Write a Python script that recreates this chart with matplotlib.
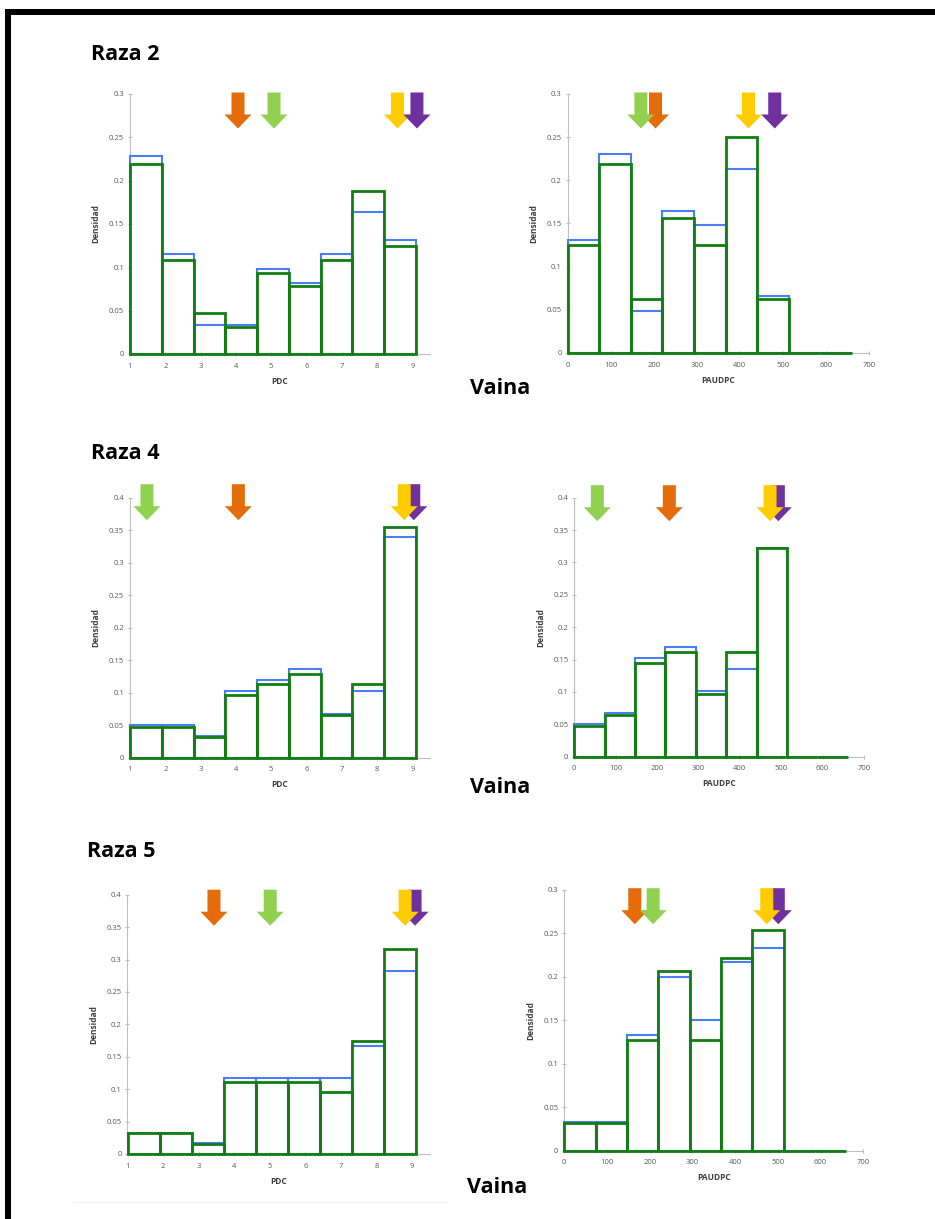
import matplotlib
matplotlib.use("Agg")
import matplotlib.pyplot as plt
import matplotlib.transforms as mtransforms
from matplotlib.patches import Polygon, Rectangle
from matplotlib.lines import Line2D

W, H, DPI = 935, 1219, 100

# ---- bin edges -------------------------------------------------------------
pdc_edges = [1.0, 1.9, 2.8, 3.7, 4.6, 5.5, 6.4, 7.3, 8.2, 9.1]
paudpc_edges = [0.0, 73.4, 146.8, 220.2, 293.6, 367.0, 440.4, 513.8, 587.2, 660.6]

pdc_ticks = [1, 2, 3, 4, 5, 6, 7, 8, 9]
paudpc_ticks = [0, 100, 200, 300, 400, 500, 600, 700]

# ---- densities -------------------------------------------------------------
# Raza 2
r2_pdc_blue = [0.229, 0.115, 0.033, 0.033, 0.098, 0.082, 0.115, 0.164, 0.131]
r2_pdc_green = [0.219, 0.109, 0.047, 0.031, 0.094, 0.078, 0.109, 0.188, 0.125]
r2_paudpc_blue = [0.131, 0.230, 0.049, 0.164, 0.148, 0.213, 0.066, 0.0, 0.0]
r2_paudpc_green = [0.125, 0.219, 0.063, 0.156, 0.125, 0.250, 0.063, 0.0, 0.0]
# Raza 4
r4_pdc_blue = [0.051, 0.051, 0.034, 0.102, 0.119, 0.136, 0.068, 0.102, 0.339]
r4_pdc_green = [0.048, 0.048, 0.032, 0.097, 0.113, 0.129, 0.065, 0.113, 0.355]
r4_paudpc_blue = [0.051, 0.068, 0.153, 0.169, 0.102, 0.136, 0.322, 0.0, 0.0]
r4_paudpc_green = [0.048, 0.065, 0.145, 0.161, 0.097, 0.161, 0.323, 0.0, 0.0]
# Raza 5
r5_pdc_blue = [0.033, 0.033, 0.017, 0.117, 0.117, 0.117, 0.117, 0.167, 0.283]
r5_pdc_green = [0.032, 0.032, 0.016, 0.111, 0.111, 0.111, 0.095, 0.175, 0.317]
r5_paudpc_blue = [0.033, 0.033, 0.133, 0.200, 0.150, 0.217, 0.233, 0.0, 0.0]
r5_paudpc_green = [0.032, 0.032, 0.127, 0.206, 0.127, 0.222, 0.254, 0.0, 0.0]

# ---- group means marked with arrows (drawn in list order) ------------------
r2_pdc_marks = [4.06, 5.08, 8.58, 9.13]
r2_pdc_mark_groups = ["orange", "lime", "yellow", "purple"]
r2_paudpc_marks = [204, 170, 420, 481]
r2_paudpc_mark_groups = ["orange", "lime", "yellow", "purple"]
r4_pdc_marks = [1.48, 4.07, 9.04, 8.77]
r4_pdc_mark_groups = ["lime", "orange", "purple", "yellow"]
r4_paudpc_marks = [55.6, 229.6, 493, 473]
r4_paudpc_mark_groups = ["lime", "orange", "purple", "yellow"]
r5_pdc_marks = [3.43, 5.01, 9.08, 8.80]
r5_pdc_mark_groups = ["orange", "lime", "purple", "yellow"]
r5_paudpc_marks = [165, 208, 501, 474]
r5_paudpc_mark_groups = ["orange", "lime", "purple", "yellow"]

ARROW_COLORS = {"orange": "#E46C0A", "lime": "#92D050",
                "yellow": "#FFCC00", "purple": "#7030A0"}
BLUE = "#4A7EF6"
GREEN = "#127E12"
AXIS_GRAY = "#BFBFBF"
TICK_TXT = "#595959"
LABEL_TXT = "#404040"
FONT = "Open Sans"

plt.rcParams["font.family"] = [FONT, "DejaVu Sans"]

fig = plt.figure(figsize=(W / DPI, H / DPI), dpi=DPI)
fig.patch.set_facecolor("white")


def px_axes(left, top, right, bottom):
    """Axes rectangle given in pixel coordinates (origin top-left)."""
    return fig.add_axes([left / W, 1 - bottom / H, (right - left) / W, (bottom - top) / H])


def down_arrow(ax, x, top_offset_px, color):
    """Block arrow pointing down, tip below the top of the axes."""
    trans = mtransforms.blended_transform_factory(ax.transData, ax.transAxes)
    x0, y0 = trans.transform((x, 1.0))
    y0 += top_offset_px
    sw, hw, sl, tl = 6.5, 13.5, 22.0, 36.0
    verts = [(x0 - sw, y0), (x0 + sw, y0), (x0 + sw, y0 - sl), (x0 + hw, y0 - sl),
             (x0, y0 - tl), (x0 - hw, y0 - sl), (x0 - sw, y0 - sl)]
    ax.add_patch(Polygon(verts, closed=True, facecolor=color, edgecolor="none",
                         transform=mtransforms.IdentityTransform(), clip_on=False,
                         zorder=6))


def panel(rect, edges, blue, green, xlim, xticks, ylim, xlabel,
          marks, mark_groups, arrow_offset):
    ax = px_axes(*rect)
    ax.set_xlim(*xlim)
    ax.set_ylim(*ylim)
    lefts = edges[:-1]
    widths = [b - a for a, b in zip(edges[:-1], edges[1:])]
    ax.bar(lefts, blue, width=widths, align="edge", fill=False,
           edgecolor=BLUE, linewidth=1.5, clip_on=False, zorder=3)
    ax.bar(lefts, green, width=widths, align="edge", fill=False,
           edgecolor=GREEN, linewidth=2.0, clip_on=False, zorder=4)

    for side in ("top", "right"):
        ax.spines[side].set_visible(False)
    for side in ("left", "bottom"):
        ax.spines[side].set_color(AXIS_GRAY)
        ax.spines[side].set_linewidth(0.8)

    step = 0.05
    n = int(round(ylim[1] / step))
    yt = [round(i * step, 2) for i in range(n + 1)]
    ax.set_yticks(yt)
    ax.set_yticklabels([f"{v:g}" for v in yt])
    ax.set_xticks(xticks)
    ax.set_xticklabels([str(v) for v in xticks])
    ax.tick_params(axis="both", direction="inout", length=3.5, width=0.8,
                   color=AXIS_GRAY, labelcolor=TICK_TXT, labelsize=5.5)
    ax.tick_params(axis="y", pad=2.5)
    ax.tick_params(axis="x", pad=4.5)

    ax.set_xlabel(xlabel, fontsize=6, fontweight="bold", color=LABEL_TXT, labelpad=5)
    ax.set_ylabel("Densidad", fontsize=6, fontweight="bold", color=LABEL_TXT, labelpad=6)
    ax.patch.set_alpha(0)

    for x, g in zip(marks, mark_groups):
        down_arrow(ax, x, arrow_offset, ARROW_COLORS[g])
    return ax


panel((130, 94, 430, 354), pdc_edges, r2_pdc_blue, r2_pdc_green, (1, 9.5), pdc_ticks,
      (0, 0.3), "PDC", r2_pdc_marks, r2_pdc_mark_groups, 1.5)
panel((567.7, 94, 869, 353), paudpc_edges, r2_paudpc_blue, r2_paudpc_green, (0, 700),
      paudpc_ticks, (0, 0.3), "PAUDPC", r2_paudpc_marks, r2_paudpc_mark_groups, 1.5)

panel((130, 497.7, 430, 757.7), pdc_edges, r4_pdc_blue, r4_pdc_green, (1, 9.5), pdc_ticks,
      (0, 0.4), "PDC", r4_pdc_marks, r4_pdc_mark_groups, 13.5)
panel((574.3, 497.7, 864, 756.7), paudpc_edges, r4_paudpc_blue, r4_paudpc_green, (0, 700),
      paudpc_ticks, (0, 0.4), "PAUDPC", r4_paudpc_marks, r4_paudpc_mark_groups, 12.5)

panel((127.5, 894.7, 430, 1154), pdc_edges, r5_pdc_blue, r5_pdc_green, (1, 9.5), pdc_ticks,
      (0, 0.4), "PDC", r5_pdc_marks, r5_pdc_mark_groups, 5.0)
panel((564.3, 889.7, 863.3, 1150.7), paudpc_edges, r5_paudpc_blue, r5_paudpc_green, (0, 700),
      paudpc_ticks, (0, 0.3), "PAUDPC", r5_paudpc_marks, r5_paudpc_mark_groups, 1.5)


def fig_text(x_px, y_px, s, **kw):
    fig.text(x_px / W, 1 - y_px / H, s, ha="left", va="baseline",
             fontsize=15.5, fontweight="bold", color="black", **kw)


fig_text(91, 60, "Raza 2")
fig_text(91, 459, "Raza 4")
fig_text(87, 857, "Raza 5")
fig_text(470, 394, "Vaina")
fig_text(470, 793, "Vaina")
fig_text(467, 1193, "Vaina")

# page frame: thick black rule along the top and the left side
fig.patches.append(Rectangle((5 / W, 1 - 15 / H), 1 - 5 / W, 6 / H, transform=fig.transFigure,
                             facecolor="black", edgecolor="none", zorder=10))
fig.patches.append(Rectangle((5 / W, 0), 6 / W, 1 - 9 / H, transform=fig.transFigure,
                             facecolor="black", edgecolor="none", zorder=10))
fig.lines.append(Line2D([73 / W, 448 / W], [1 - 1202 / H, 1 - 1202 / H],
                        transform=fig.transFigure, color="#F2F2F2", linewidth=0.8))

fig.savefig("out.png", dpi=DPI, facecolor="white")
